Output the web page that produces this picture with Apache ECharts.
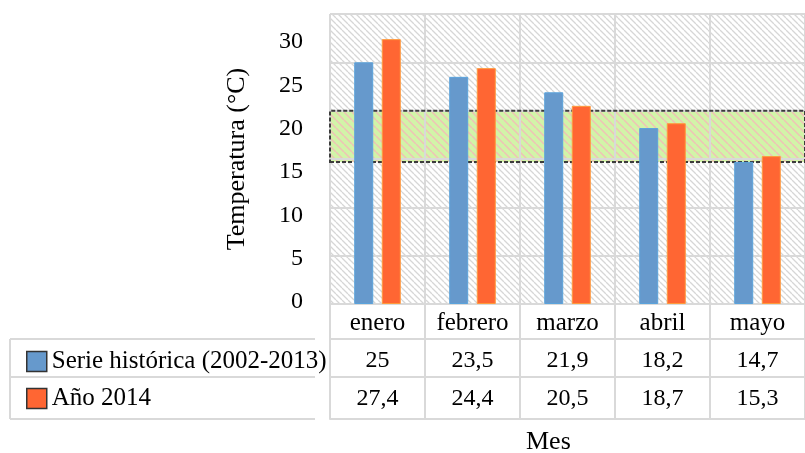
<!DOCTYPE html>
<html>
<head>
<meta charset="utf-8">
<title>Temperatura por mes</title>
<script src="https://cdn.jsdelivr.net/npm/echarts@6/dist/echarts.min.js"></script>
<style>
  html, body { margin: 0; padding: 0; background: #fff; }
  #chart { width: 805px; height: 453px; }
</style>
</head>
<body>
<div id="chart"></div>
<script>
// Monthly temperatures (°C)
const categories = ['enero', 'febrero', 'marzo', 'abril', 'mayo'];
const serieHistorica = [25, 23.5, 21.9, 18.2, 14.7];
const anio2014 = [27.4, 24.4, 20.5, 18.7, 15.3];
const seriesNames = ['Serie histórica (2002-2013)', 'Año 2014'];
// Highlighted temperature range
const bandRange = [14.7, 20];
// Value axis ticks
const yMin = 0, yMax = 30, yStep = 5;

const SERIF = 'Liberation Serif';
const GRID_LINE = '#d9d9d9';

// Diagonal hatch tile used as a fill pattern
function hatch(bg, stroke, size, width) {
  const c = document.createElement('canvas');
  c.width = size; c.height = size;
  const g = c.getContext('2d');
  g.fillStyle = bg;
  g.fillRect(0, 0, size, size);
  g.strokeStyle = stroke;
  g.lineWidth = width;
  g.beginPath();
  for (const x0 of [-size, 0, size]) {
    g.moveTo(x0, 0);
    g.lineTo(x0 + size, size);
  }
  g.stroke();
  return { image: c, repeat: 'repeat' };
}

const fmt = v => String(v).replace('.', ',');

const chart = echarts.init(document.getElementById('chart'), null, { renderer: 'canvas' });

const tableLine = { show: true, lineStyle: { color: GRID_LINE, width: 2 } };

chart.setOption({
  animation: false,
  backgroundColor: '#ffffff',
  grid: [
    { left: 330, top: 14, width: 479, height: 290 },
    { left: 330, top: 42, width: 479, height: 260 }
  ],
  legend: {
    data: seriesNames,
    orient: 'vertical',
    icon: 'rect',
    left: 21,
    top: 344,
    itemWidth: 20,
    itemHeight: 20,
    itemGap: 12,
    itemStyle: { borderColor: '#333', borderWidth: 1.5 },
    textStyle: { fontFamily: SERIF, fontSize: 25, color: '#000' },
    selectedMode: false
  },
  xAxis: [
    {
      type: 'category', gridIndex: 0, data: categories,
      axisLine: tableLine,
      axisTick: { show: true, length: 115, lineStyle: { color: GRID_LINE, width: 2 } },
      splitLine: { show: true, lineStyle: { color: GRID_LINE, width: 2 } },
      axisLabel: { interval: 0, margin: 7, fontFamily: SERIF, fontSize: 25, color: '#000' }
    },
    {
      type: 'category', gridIndex: 0, data: categories, position: 'bottom', offset: 35,
      axisLine: tableLine, axisTick: { show: false },
      axisLabel: { interval: 0, margin: 10, fontFamily: SERIF, fontSize: 24, color: '#000',
        formatter: (v, i) => fmt(serieHistorica[i]) }
    },
    {
      type: 'category', gridIndex: 0, data: categories, position: 'bottom', offset: 73,
      axisLine: tableLine, axisTick: { show: false },
      axisLabel: { interval: 0, margin: 10, fontFamily: SERIF, fontSize: 24, color: '#000',
        formatter: (v, i) => fmt(anio2014[i]) }
    },
    {
      type: 'category', gridIndex: 0, data: categories, position: 'bottom', offset: 115,
      axisLine: tableLine, axisTick: { show: false }, axisLabel: { show: false }
    },
    { type: 'category', gridIndex: 1, data: categories, show: false }
  ],
  yAxis: [
    {
      type: 'value', gridIndex: 0, min: yMin, max: yMax, interval: yStep,
      axisLabel: { show: false },
      axisLine: { show: false }, axisTick: { show: false },
      splitLine: { show: true, lineStyle: { color: GRID_LINE, width: 2 } },
      name: 'Temperatura (°C)', nameLocation: 'middle', nameRotate: 90, nameGap: 80,
      nameTextStyle: { fontFamily: SERIF, fontSize: 26, color: '#000' }
    },
    {
      type: 'value', gridIndex: 1, min: yMin, max: yMax, interval: yStep,
      axisLine: { show: false }, axisTick: { show: false }, splitLine: { show: false },
      axisLabel: { margin: 27, fontFamily: SERIF, fontSize: 24, color: '#000' }
    }
  ],
  series: [
    {
      // plot background and highlighted range fill, kept under the grid lines
      type: 'line', data: [], xAxisIndex: 0, yAxisIndex: 0, silent: true, z: -1,
      markArea: {
        silent: true,
        z: -1,
        label: { show: false },
        data: [
          [{ yAxis: yMin, itemStyle: { color: hatch('#ffffff', '#d6d6d6', 6, 1.3), borderWidth: 0 } },
           { yAxis: yMax }],
          [{ yAxis: bandRange[0], itemStyle: { color: hatch('#d2f4a8', '#efc2b6', 8, 1.5), borderWidth: 0 } },
           { yAxis: bandRange[1] }]
        ]
      }
    },
    {
      // dashed outline of the highlighted range, above the grid lines
      type: 'line', data: [], xAxisIndex: 0, yAxisIndex: 0, silent: true,
      markArea: {
        silent: true,
        z: 1,
        label: { show: false },
        data: [
          [{ yAxis: bandRange[0], itemStyle: { color: 'rgba(0,0,0,0)',
               borderColor: '#3c3c3c', borderWidth: 2, borderType: [4, 2] } },
           { yAxis: bandRange[1] }]
        ]
      }
    },
    {
      name: seriesNames[0], type: 'bar', data: serieHistorica,
      xAxisIndex: 0, yAxisIndex: 0, barWidth: 19, barGap: '45%', z: 3,
      itemStyle: { color: '#6699cc', borderColor: '#5aa3dc', borderWidth: 1 }
    },
    {
      name: seriesNames[1], type: 'bar', data: anio2014,
      xAxisIndex: 0, yAxisIndex: 0, barWidth: 19, barGap: '45%', z: 3,
      itemStyle: { color: '#ff6633', borderColor: '#ff9a3c', borderWidth: 1 }
    }
  ],
  graphic: [
    { type: 'line', shape: { x1: 10, y1: 339, x2: 315, y2: 339 }, style: { stroke: GRID_LINE, lineWidth: 2 } },
    { type: 'line', shape: { x1: 10, y1: 377, x2: 315, y2: 377 }, style: { stroke: GRID_LINE, lineWidth: 2 } },
    { type: 'line', shape: { x1: 10, y1: 419, x2: 315, y2: 419 }, style: { stroke: GRID_LINE, lineWidth: 2 } },
    { type: 'line', shape: { x1: 10, y1: 339, x2: 10, y2: 419 }, style: { stroke: GRID_LINE, lineWidth: 2 } },
    { type: 'text', left: 526, top: 429,
      style: { text: 'Mes', font: '26px "Liberation Serif"', fill: '#000' } }
  ]
});
</script>
</body>
</html>
